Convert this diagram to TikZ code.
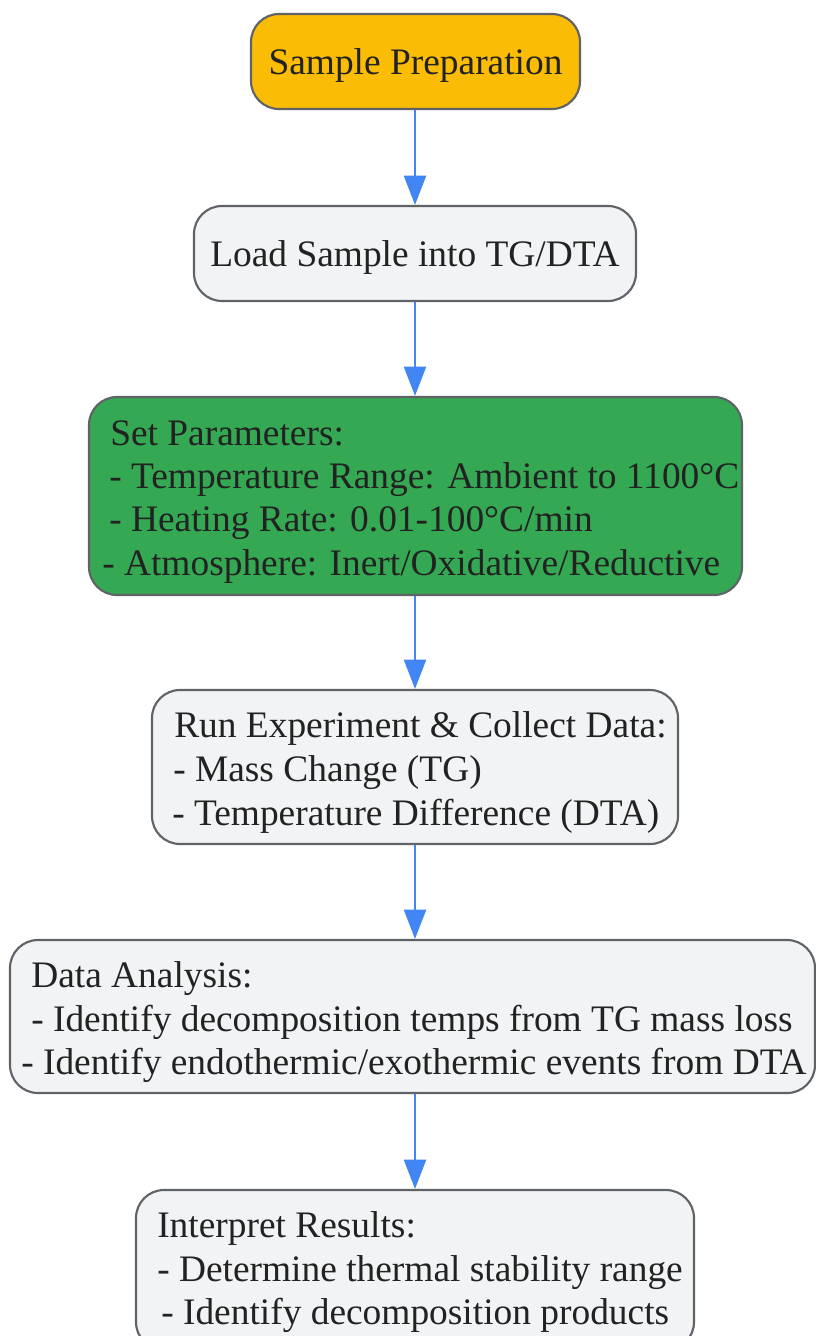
\documentclass[tikz,border=0pt]{standalone}
\usepackage{fontspec}
\setmainfont{Liberation Serif}
\usetikzlibrary{arrows.meta,fit}
\definecolor{cyellow}{HTML}{FBBC05}
\definecolor{cgreen}{HTML}{34A853}
\definecolor{cgray}{HTML}{F1F3F4}
\definecolor{cborder}{HTML}{5F6368}
\definecolor{carrow}{HTML}{4285F4}
\definecolor{ctext}{HTML}{222222}
\tikzset{
  box/.style={draw=cborder, line width=1.6pt, rounded corners=21pt, inner sep=0pt, fill=cgray},
  txt/.style={anchor=base west, inner sep=0pt, text=ctext, font=\fontsize{28.05pt}{32.6pt}\selectfont},
  ctxt/.style={anchor=base, inner sep=0pt, text=ctext, font=\fontsize{28.05pt}{32.6pt}\selectfont},
  flow/.style={draw=carrow, line width=1.8pt, -{Triangle[width=16.5pt,length=22pt]}},
}
\begin{document}
\begin{tikzpicture}[x=0.75pt,y=-0.75pt]
\useasboundingbox (0,0) rectangle (816,1336);
\clip (0,0) rectangle (816,1336);
% boxes
\node[box, fill=cyellow, fit={(251,14) (580,109)}] (n1) {};
\node[box, fit={(194,206) (636,301)}] (n2) {};
\node[box, fill=cgreen, fit={(89,397) (742,595)}] (n3) {};
\node[box, fit={(152,690) (678,844)}] (n4) {};
\node[box, fit={(10,940) (815,1093)}] (n5) {};
\node[box, fit={(136,1190) (694,1350)}] (n6) {};
\coordinate (axis) at (415,0);
% texts
\node[ctxt] (t1) at (415.5,74) {Sample Preparation};
\node[ctxt] (t2) at (415,266) {Load Sample into TG/DTA};
\node[txt] (t3a) at (110,445) {Set Parameters:};
\node[txt] (t3b) at (109,488) {- Temperature Range: Ambient to 1100°C};
\node[txt] (t3c) at (109,531) {- Heating Rate: 0.01-100°C/min};
\node[txt] (t3d) at (102,575) {- Atmosphere: Inert/Oxidative/Reductive};
\node[txt] (t4a) at (174,737) {Run Experiment \& Collect Data:};
\node[txt] (t4b) at (173,781) {- Mass Change (TG)};
\node[txt] (t4c) at (172,825) {- Temperature Difference (DTA)};
\node[txt] (t5a) at (31,987) {Data Analysis:};
\node[txt] (t5b) at (31,1031) {- Identify decomposition temps from TG mass loss};
\node[txt] (t5c) at (21,1074) {- Identify endothermic/exothermic events from DTA};
\node[txt] (t6a) at (157,1237) {Interpret Results:};
\node[txt] (t6b) at (157,1281) {- Determine thermal stability range};
\node[txt] (t6c) at (161,1324) {- Identify decomposition products};
% connectors
\draw[flow] (n1.south -| axis) -- (n2.north -| axis);
\draw[flow] (n2.south -| axis) -- (n3.north -| axis);
\draw[flow] (n3.south -| axis) -- (n4.north -| axis);
\draw[flow] (n4.south -| axis) -- (n5.north -| axis);
\draw[flow] (n5.south -| axis) -- (n6.north -| axis);
\end{tikzpicture}
\end{document}
